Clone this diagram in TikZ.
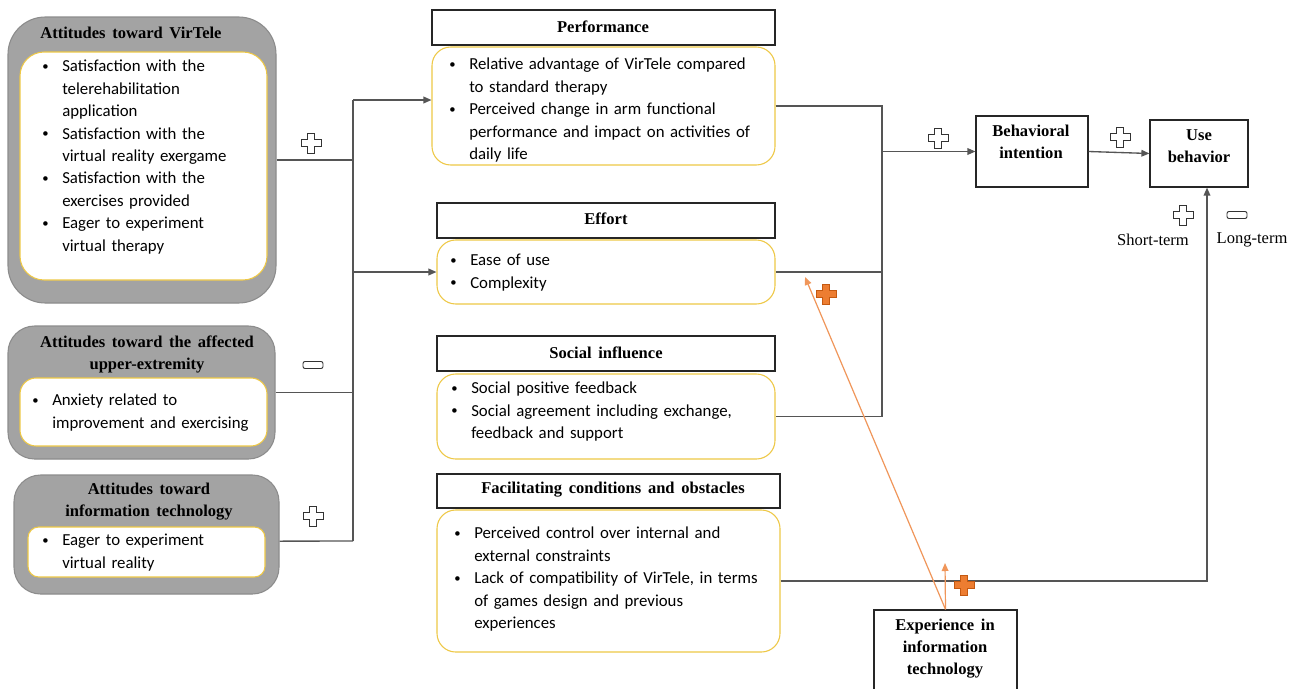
\documentclass[tikz,border=0pt]{standalone}
\usepackage{fontspec}
\setmainfont{Liberation Serif}
\newfontfamily\calfont{Carlito}
\usetikzlibrary{fit,arrows.meta,calc}
\definecolor{grayf}{RGB}{163,163,163}
\definecolor{grayb}{RGB}{140,140,140}
\definecolor{yel}{RGB}{238,200,70}
\definecolor{lineg}{RGB}{85,85,85}
\definecolor{org}{RGB}{237,125,49}
\definecolor{orgd}{RGB}{196,89,17}
\definecolor{orgl}{RGB}{240,150,90}
\newcommand{\bl}[1]{\noindent\hangindent=15pt\hangafter=1\hbox to 15pt{\raisebox{1.2pt}{\fontsize{9.5}{9.5}\selectfont\textbullet}\hfil}#1\par}
\newcommand{\ttlfont}{\bfseries\fontsize{12.4}{16.5}\selectfont\spaceskip=5pt\relax}
\tikzset{
 pics/wplus/.style={code={\draw[line width=0.7pt, draw=black!80, fill=white] (-3.5,-10)--(3.5,-10)--(3.5,-3.5)--(10,-3.5)--(10,3.5)--(3.5,3.5)--(3.5,10)--(-3.5,10)--(-3.5,3.5)--(-10,3.5)--(-10,-3.5)--(-3.5,-3.5)--cycle;}},
 pics/oplus/.style={code={\draw[line width=0.6pt, draw=orgd, fill=org] (-3.5,-10)--(3.5,-10)--(3.5,-3.5)--(10,-3.5)--(10,3.5)--(3.5,3.5)--(3.5,10)--(-3.5,10)--(-3.5,3.5)--(-10,3.5)--(-10,-3.5)--(-3.5,-3.5)--cycle;}},
 pics/wminus/.style={code={\draw[line width=0.7pt, draw=black!80, fill=white, rounded corners=1.5pt] (-10,-3.5) rectangle (10,3.5);}}
}
\begin{document}
\begin{tikzpicture}[x=0.75pt,y=-0.75pt,
 gbox/.style={draw=grayb, fill=grayf, line width=0.8pt, inner sep=0},
 ybox/.style={draw=yel, fill=white, line width=0.8pt, rounded corners=14pt, inner sep=0},
 hdr/.style={draw=black!85, fill=white, line width=0.9pt, inner sep=0},
 ttl/.style={font=\ttlfont, align=center, inner sep=0},
 lbl/.style={font=\fontsize{12.4}{14}\selectfont, inner sep=0},
 btxt/.style={font=\calfont\fontsize{12.6}{16.8}\selectfont, text width=340pt, align=left, inner sep=0, anchor=north west},
 conn/.style={draw=lineg, line width=1pt},
 arr/.style={conn, -{Triangle[length=6pt,width=5pt]}},
 oarr/.style={draw=orgl, line width=0.9pt, -{Triangle[length=6pt,width=5pt]}}
]
\fill[white] (0,0) rectangle (1296,689);
\useasboundingbox (0,0) rectangle (1296,689);

% left column
\node[gbox, rounded corners=28pt, fit={(8,17) (276,303)}] (ga) {};
\node[ybox, rounded corners=18pt, fit={(20,52) (267,280)}] (ia) {};
\node[gbox, rounded corners=20pt, fit={(8,326) (275,459)}] (gb) {};
\node[ybox, rounded corners=12pt, fit={(20,378) (267,446)}] (ib) {};
\node[gbox, rounded corners=20pt, fit={(14,475) (279,594)}] (gc) {};
\node[ybox, rounded corners=8pt, fit={(28,527) (265,577)}] (ic) {};
\node[ttl] (tat) at (131,33) {Attitudes toward VirTele};
\node[ttl] (tbt) at (147,354) {Attitudes toward the affected\\upper-extremity};
\node[ttl] (tct) at (149,502) {Attitudes toward\\information technology};
\node[btxt] (ta) at (42,60) {\bl{Satisfaction with the\newline telerehabilitation\newline application}\bl{Satisfaction with the\newline virtual reality exergame}\bl{Satisfaction with the\newline exercises provided}\bl{Eager to experiment\newline virtual therapy}};
\node[btxt] (tb) at (32,394) {\bl{Anxiety related to\newline improvement and exercising}};
\node[btxt] (tc) at (42,534) {\bl{Eager to experiment\newline virtual reality}};

% middle column
\node[hdr, fit={(432,10) (775,45)}] (ph) {};
\node[ttl] (pht) at (603,27) {Performance};
\node[ybox, fit={(432,47) (775,165)}] (pb) {};
\node[hdr, fit={(437,203) (775,238)}] (eh) {};
\node[ttl] (eht) at (606,219) {Effort};
\node[hdr, fit={(437,336) (775,371)}] (sh) {};
\node[ttl] (sht) at (606,353) {Social influence};
\node[ybox, fit={(437,240) (775,304)}] (eb) {};
\node[ybox, fit={(437,374) (775,459)}] (sb) {};
\node[hdr, fit={(437,474) (780,508)}] (fh) {};
\node[ttl] (fht) at (613,490) {Facilitating conditions and obstacles};
\node[ybox, fit={(437,510) (780,652)}] (fb) {};
\node[btxt] (tp) at (449,58) {\bl{Relative advantage of VirTele compared\newline to standard therapy}\bl{Perceived change in arm functional\newline performance and impact on activities of\newline daily life}};
\node[btxt] (te) at (450,254) {\bl{Ease of use}\bl{Complexity}};
\node[btxt] (ts) at (451,382) {\bl{Social positive feedback}\bl{Social agreement including exchange,\newline feedback and support}};
\node[btxt] (tf) at (454,527) {\bl{Perceived control over internal and\newline external constraints}\bl{Lack of compatibility of VirTele, in terms\newline of games design and previous\newline experiences}};

% right side
\node[hdr, fit={(976,116) (1088,187)}] (bi) {};
\node[ttl] (bit) at (1031,142) {Behavioral\\intention};
\node[hdr, fit={(1150,120) (1248,187)}] (ub) {};
\node[ttl] (ubt) at (1199,146) {Use\\behavior};
\node[hdr, fit={(874,610) (1017,705)}] (ex) {};
\node[ttl] (ext) at (945,649) {Experience in\\information\\technology};
\node[lbl] (st) at (1153,240) {Short-term};
\node[lbl] (lt) at (1252,240) {Long-term};

% connectors left
\coordinate (jl) at (353,100);
\coordinate (jlb) at (353,541);
\draw[conn] (jl) -- (jlb);
\draw[conn] (ga.east) -- (ga.east -| jl);
\draw[conn] (gb.east) -- (gb.east -| jl);
\draw[conn] ([yshift=-5pt]gc.east) -- (jlb);
\draw[arr] (jl) -- (jl -| pb.west);
\draw[arr] (eb.west -| jl) -- (eb.west);

% connectors right
\coordinate (jr) at (882,107);
\draw[conn] (pb.east) -- (pb.east -| jr) -- (sb.east -| jr) -- (sb.east);
\draw[conn] (eb.east) -- (eb.east -| jr);
\draw[arr] (bi.west -| jr) -- (bi.west);
\draw[arr] (bi.east) -- (ub.west);
\draw[arr] (fb.east) -| ([xshift=6pt]ub.south);

% orange arrows
\coordinate (oe) at (805,277);
\coordinate (oc) at (945,563);
\draw[oarr] (ex.north) -- (oe);
\draw[oarr] (ex.north) -- (oc);

% signs
\pic at (311,143) {wplus};
\pic at (313,365) {wminus};
\pic at (313,516) {wplus};
\pic at (938,138) {wplus};
\pic at (1120,137) {wplus};
\pic at (1183,215) {wplus};
\pic at (1237,215) {wminus};
\pic at (826,294) {oplus};
\pic at (964,585) {oplus};
\end{tikzpicture}
\end{document}
